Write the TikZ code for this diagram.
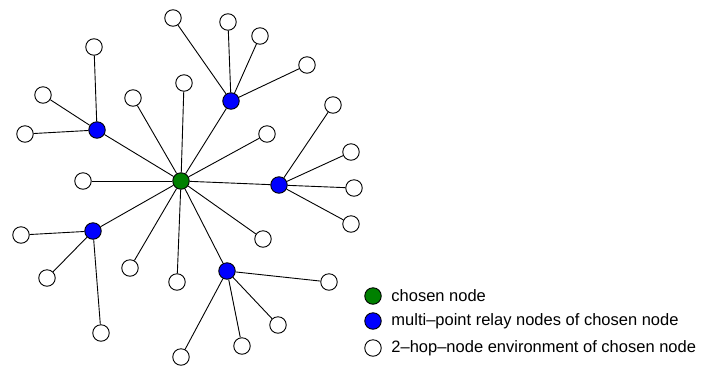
\documentclass[tikz,border=0pt]{standalone}
\usepackage{fontspec}
\setmainfont{Liberation Sans}
\definecolor{chosengreen}{RGB}{0,128,0}
\definecolor{relayblue}{RGB}{0,0,255}
\begin{document}
\begin{tikzpicture}[x=1pt,y=-1pt,line width=0.9pt,
  base/.style={circle,draw=black,line width=0.9pt,minimum size=16.5pt,inner sep=0pt},
  hub/.style={base,fill=chosengreen},
  relay/.style={base,fill=relayblue},
  leaf/.style={base,fill=white},
  edge/.style={draw=black,line width=0.9pt},
  legtext/.style={anchor=west,inner sep=0pt,font=\fontsize{16.5}{18}\selectfont}]
\useasboundingbox (0,0) rectangle (704,365);
% chosen node
\node[hub] (c) at (181,181) {};
% relays
\node[relay] (b1) at (97,130) {};
\node[relay] (b2) at (231,101) {};
\node[relay] (b3) at (279,185) {};
\node[relay] (b4) at (93,231) {};
\node[relay] (b5) at (227,271) {};
% leaves of chosen node
\node[leaf] (c1) at (133,98) {};
\node[leaf] (c2) at (184,83) {};
\node[leaf] (c3) at (267,134) {};
\node[leaf] (c4) at (83,181) {};
\node[leaf] (c5) at (130,268) {};
\node[leaf] (c6) at (177,282) {};
\node[leaf] (c7) at (263,239) {};
% leaves of b1
\node[leaf] (a1) at (94,47) {};
\node[leaf] (a2) at (43,95) {};
\node[leaf] (a3) at (25,134) {};
% leaves of b2
\node[leaf] (d1) at (173,18) {};
\node[leaf] (d2) at (228,22) {};
\node[leaf] (d3) at (260,36) {};
\node[leaf] (d4) at (307,65) {};
% leaves of b3
\node[leaf] (e1) at (333,105) {};
\node[leaf] (e2) at (351,152) {};
\node[leaf] (e3) at (354,188) {};
\node[leaf] (e4) at (351,224) {};
% leaves of b4
\node[leaf] (f1) at (21,235) {};
\node[leaf] (f2) at (47,278) {};
\node[leaf] (f3) at (101,333) {};
% leaves of b5
\node[leaf] (g1) at (329,282) {};
\node[leaf] (g2) at (278,325) {};
\node[leaf] (g3) at (242,346) {};
\node[leaf] (g4) at (181,357) {};
% edges
\foreach \n in {b1,b2,b3,b4,b5,c1,c2,c3,c4,c5,c6,c7} \draw[edge] (c) -- (\n);
\foreach \n in {a1,a2,a3} \draw[edge] (b1) -- (\n);
\foreach \n in {d1,d2,d3,d4} \draw[edge] (b2) -- (\n);
\foreach \n in {e1,e2,e3,e4} \draw[edge] (b3) -- (\n);
\foreach \n in {f1,f2,f3} \draw[edge] (b4) -- (\n);
\foreach \n in {g1,g2,g3,g4} \draw[edge] (b5) -- (\n);
% legend
\node[hub] (lg) at (373,296) {};
\node[relay] (lb) at (373,321) {};
\node[leaf] (lw) at (373,348) {};
\node[legtext] (tg) at (391,296) {chosen node};
\node[legtext] (tb) at (391,321) {multi–point relay nodes of chosen node};
\node[legtext] (tw) at (391,348) {2–hop–node environment of chosen node};
\end{tikzpicture}
\end{document}
